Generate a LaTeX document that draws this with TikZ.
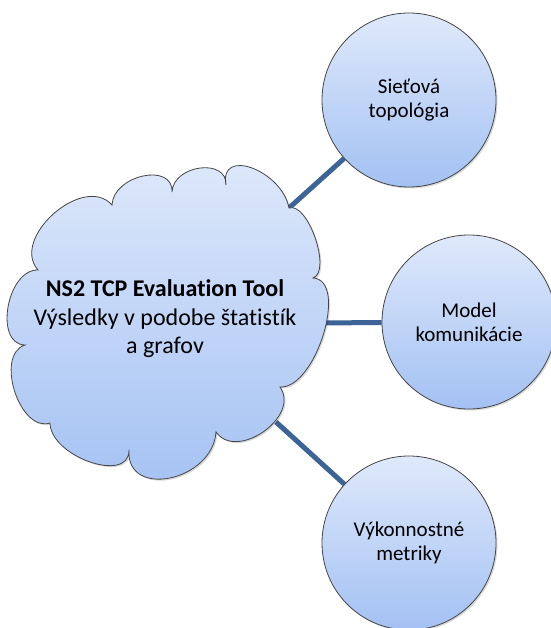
\documentclass[tikz,border=0pt]{standalone}
\usepackage{fontspec}
\setmainfont[Ligatures=NoCommon]{Carlito}
\usetikzlibrary{shadows}
\definecolor{shtop}{RGB}{223,233,251}
\definecolor{shbot}{RGB}{163,193,243}
\definecolor{edgec}{RGB}{70,70,70}
\definecolor{conn}{RGB}{60,100,150}
\pgfdeclarelayer{bg}
\pgfdeclarelayer{lines}
\pgfsetlayers{bg,lines,main}
\begin{document}
\begin{tikzpicture}[x=1pt,y=-1pt,
  softshadow/.style={drop shadow={shadow xshift=1.5pt,shadow yshift=-1.5pt,opacity=0.15,fill=black}},
  bubble/.style={circle,minimum size=174pt,inner sep=0pt,draw=edgec,line width=0.8pt,
    top color=shtop,bottom color=shbot,align=center,font=\fontsize{21}{24}\selectfont,softshadow},
  link/.style={draw=conn,line width=5pt}]
\useasboundingbox (0,0) rectangle (550,628);
\begin{pgfonlayer}{bg}
\fill[white] (0,0) rectangle (550,628);
\end{pgfonlayer}
% cloud
\path[draw=edgec,line width=0.8pt,top color=shtop,bottom color=shbot,softshadow]
 (112,205) .. controls (113.3,175) and (173.3,162) .. (172,192)
 .. controls (173.3,164.7) and (227.3,157.7) .. (226,185)
 .. controls (218.7,147) and (281.7,170) .. (289,208)
 .. controls (308,201.5) and (332,271.5) .. (313,278)
 .. controls (349,280) and (316,389) .. (280,387)
 .. controls (300.8,416.5) and (236.8,461.5) .. (216,432)
 .. controls (212.7,481.3) and (125.7,499.3) .. (129,450)
 .. controls (129.7,484) and (50.7,457) .. (50,423)
 .. controls (19.5,432.8) and (-5.5,354.8) .. (25,345)
 .. controls (-6.3,344.3) and (6.7,269.3) .. (38,270)
 .. controls (9.8,238) and (83.8,173) .. (112,205) -- cycle;
\node[align=center,font=\fontsize{24}{28.5}\selectfont] (tool) at (165,319)
  {\bfseries NS2 TCP Evaluation Tool\\Výsledky v podobe štatistík\\a grafov};
\coordinate (k1) at (289,208);
\coordinate (k2) at (312,323);
\coordinate (k3) at (276,422);
\node[bubble] (c1) at (409,100) {Sieťová\\topológia};
\node[bubble] (c2) at (469,322) {Model\\komunikácie};
\node[bubble] (c3) at (409,543) {Výkonnostné\\metriky};
\begin{pgfonlayer}{lines}
\draw[link] (k1) -- (c1);
\draw[link] (k2) -- (c2);
\draw[link] (k3) -- (c3);
\end{pgfonlayer}
\end{tikzpicture}
\end{document}
